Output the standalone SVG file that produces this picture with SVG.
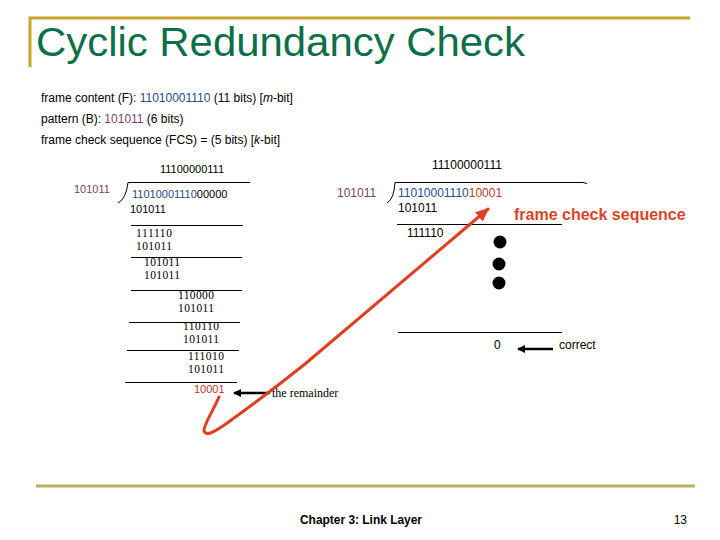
<svg xmlns="http://www.w3.org/2000/svg" width="720" height="540" viewBox="0 0 720 540">
<defs>
<style>
.sans{font-family:"Liberation Sans",Arial,sans-serif;}
.serif{font-family:"Liberation Serif","Times New Roman",serif;}
.body{font-size:12px;fill:#000;}
.d11{font-size:11px;}
.d12{font-size:12px;}
.s12{font-size:11.5px;}
.blue{fill:#2b4a8a;}
.purple{fill:#7b3f74;}
.rem{fill:#b53a2c;}
.rule{stroke:#000;stroke-width:1;fill:none;}
.gold{stroke:#c9a42c;stroke-width:3;fill:none;}
</style>
<marker id="blk" markerWidth="8" markerHeight="8" refX="7" refY="4" orient="auto" markerUnits="userSpaceOnUse">
<path d="M0,0 L8,4 L0,8 Z" fill="#000"/>
</marker>
<marker id="red" markerWidth="14" markerHeight="12" refX="12" refY="6" orient="auto" markerUnits="userSpaceOnUse">
<path d="M0,0 L14,6 L0,12 Z" fill="#de3f20"/>
</marker>
</defs>
<rect width="720" height="540" fill="#fff"/>

<g id="title">
<path class="gold" d="M30 67 V18 H690"/>
<text x="36" y="56" class="sans" font-size="40" fill="#0d6e4a" textLength="489" lengthAdjust="spacingAndGlyphs">Cyclic Redundancy Check</text>
</g>

<g id="definitions" class="sans body">
<text x="41" y="102">frame content (F): <tspan class="blue">11010001110</tspan> (11 bits) [<tspan font-style="italic">m</tspan>-bit]</text>
<text x="41" y="123">pattern (B): <tspan class="purple">101011</tspan> (6 bits)</text>
<text x="41" y="144">frame check sequence (FCS) = (5 bits) [<tspan font-style="italic">k</tspan>-bit]</text>
</g>

<g id="left-division">
<text x="160" y="173" class="sans d11">11100000111</text>
<text x="74" y="193" class="sans d11 purple">101011</text>
<path class="rule" d="M118 203 Q126 199 128 182.5 H250"/>
<text x="132" y="198" class="sans d11"><tspan class="blue">11010001110</tspan>00000</text>
<text x="130" y="213" class="sans d11">101011</text>
<line class="rule" x1="131" y1="225.5" x2="243" y2="225.5"/>
<text x="136" y="237" class="serif s12" textLength="36">111110</text>
<text x="136" y="250" class="serif s12" textLength="36">101011</text>
<line class="rule" x1="131" y1="257.5" x2="242" y2="257.5"/>
<text x="144" y="266" class="serif s12" textLength="36">101011</text>
<text x="144" y="279" class="serif s12" textLength="36">101011</text>
<line class="rule" x1="131" y1="290.5" x2="242" y2="290.5"/>
<text x="178" y="299" class="serif s12" textLength="36">110000</text>
<text x="178" y="312" class="serif s12" textLength="36">101011</text>
<line class="rule" x1="129" y1="322.5" x2="240" y2="322.5"/>
<text x="183" y="330" class="serif s12" textLength="36">110110</text>
<text x="183" y="343" class="serif s12" textLength="36">101011</text>
<line class="rule" x1="127" y1="350.5" x2="239" y2="350.5"/>
<text x="188" y="360" class="serif s12" textLength="36">111010</text>
<text x="188" y="373" class="serif s12" textLength="36">101011</text>
<line class="rule" x1="125" y1="382.5" x2="237" y2="382.5"/>
<text x="194" y="393" class="sans d11 rem">10001</text>
<text x="272" y="397" class="serif d12">the remainder</text>
</g>

<g id="right-division">
<text x="432" y="169" class="sans d12">11100000111</text>
<text x="337" y="197" class="sans d12 purple">101011</text>
<path class="rule" d="M387 203 Q394 199 395 182.5 H583 L587 183.5"/>
<text x="398" y="197" class="sans d12"><tspan class="blue">11010001110</tspan><tspan class="rem">10001</tspan></text>
<text x="398" y="212" class="sans d12">101011</text>
<line class="rule" x1="397" y1="224.5" x2="562" y2="224.5"/>
<text x="407" y="237" class="sans d12">111110</text>
<circle cx="500" cy="242" r="6.5" fill="#000"/>
<circle cx="499" cy="264" r="6.5" fill="#000"/>
<circle cx="499" cy="283" r="6.5" fill="#000"/>
<line class="rule" x1="398" y1="332.5" x2="562" y2="332.5"/>
<text x="494" y="349" class="sans d12">0</text>
<text x="559" y="349" class="sans d12">correct</text>
<text x="514" y="220" class="sans" font-size="16" font-weight="bold" fill="#d9452b">frame check sequence</text>
</g>

<g id="connectors">
<line x1="270" y1="393" x2="234" y2="393" stroke="#000" stroke-width="2.5" marker-end="url(#blk)"/>
<line x1="553" y1="349" x2="518" y2="349" stroke="#000" stroke-width="2.5" marker-end="url(#blk)"/>
<path d="M219 397 C213 411 203 426 204 431 C206 436 212 434 230 421 C255 403 280 384 305 364 L488 209" fill="none" stroke="#de3f20" stroke-width="3" stroke-linecap="round" stroke-linejoin="round" marker-end="url(#red)"/>
</g>

<g id="footer">
<line x1="36" y1="486" x2="695" y2="486" stroke="#bdb05c" stroke-width="3"/>
<text x="361" y="524" class="sans" font-size="12" font-weight="bold" text-anchor="middle" textLength="122" lengthAdjust="spacingAndGlyphs">Chapter 3: Link Layer</text>
<text x="687" y="524" class="sans" font-size="12" text-anchor="end">13</text>
</g>
</svg>
